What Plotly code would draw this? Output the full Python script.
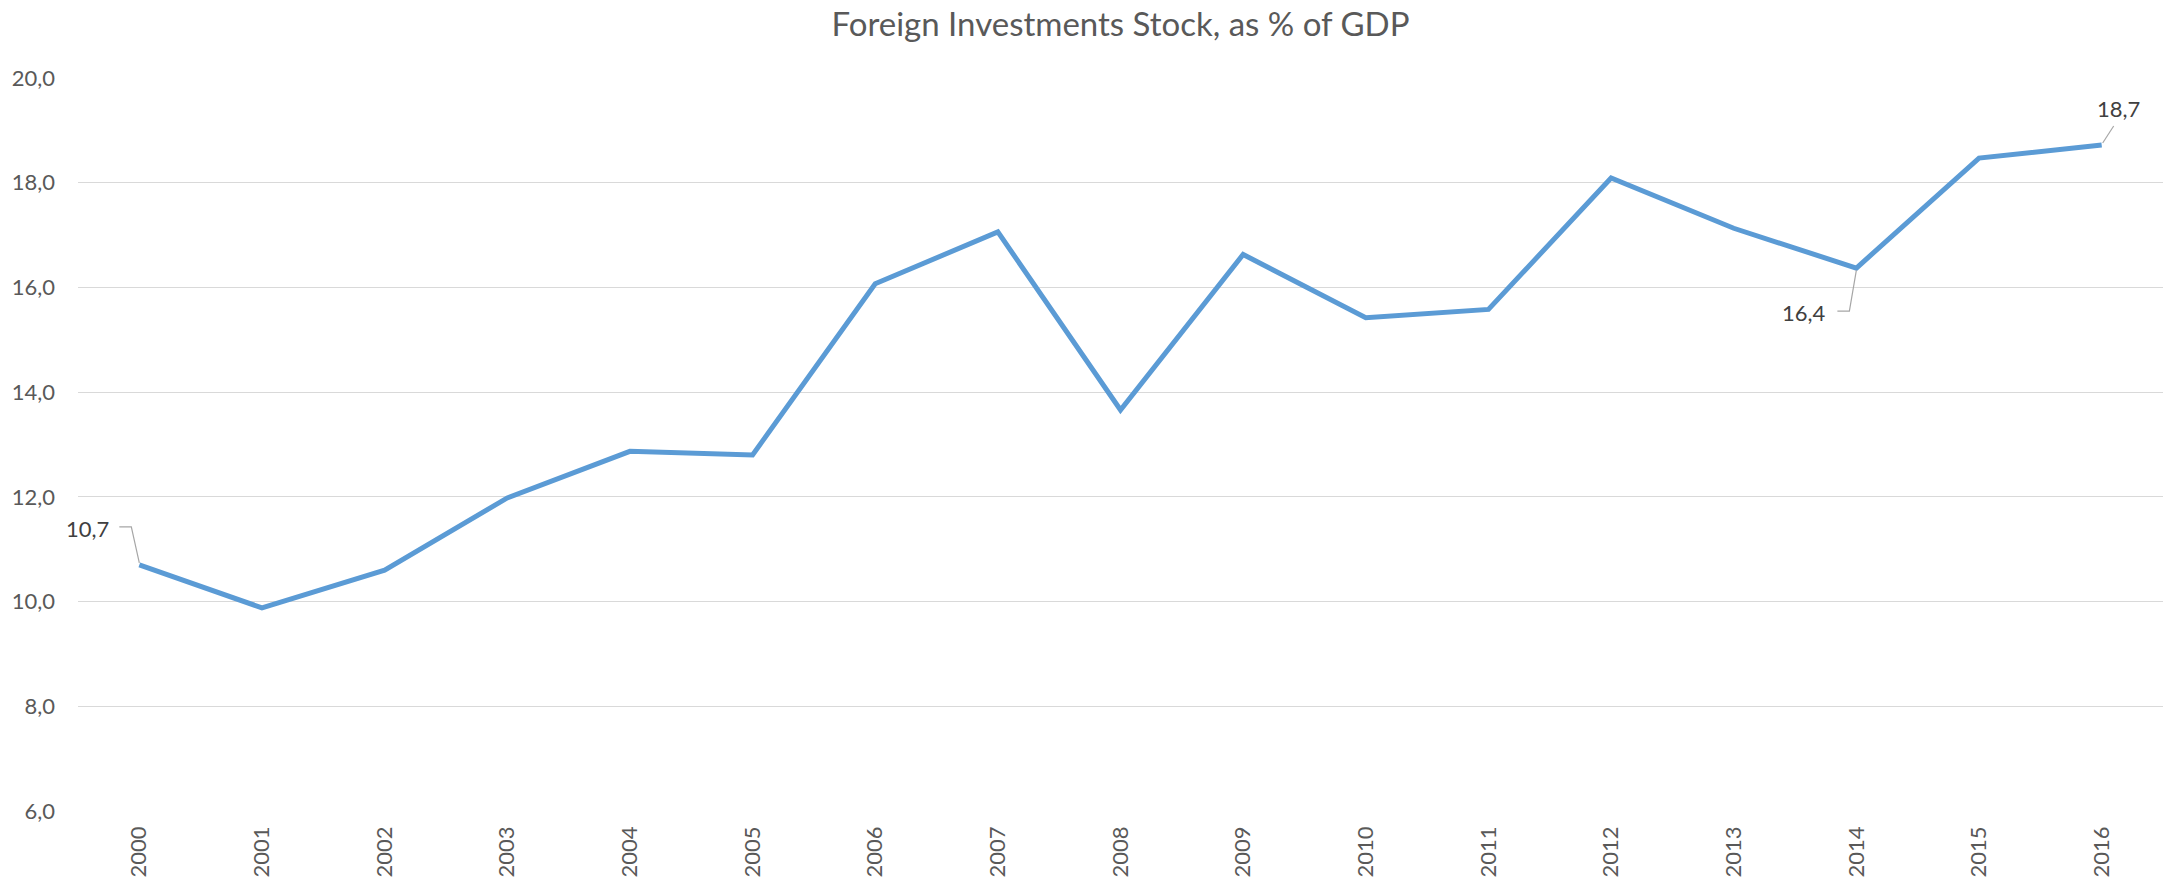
import plotly.graph_objects as go

years = [str(y) for y in range(2000, 2017)]
values = [10.7, 9.88, 10.6, 11.98, 12.87, 12.8, 16.07, 17.06, 13.66, 16.63,
          15.42, 15.58, 18.09, 17.13, 16.37, 18.47, 18.72]
y_ticks = [6, 8, 10, 12, 14, 16, 18, 20]

# labelled points: index, label text offset (px), text anchor, leader path (px, relative to point)
labelled = [
    (0, -28, 36, "right", "M -20,38 L -8,38 L 0,2"),
    (14, -28, -44, "right", "M -19,-43 L -7,-43 L 0,-2"),
    (16, 17, 37, "center", "M 12,19 L 1,2"),
]

FONT = "Lato"
fig = go.Figure()
fig.add_trace(go.Scatter(
    x=years, y=values, mode="lines",
    line=dict(color="#5B9BD5", width=5),
    hoverinfo="x+y", showlegend=False,
))

annotations = []
shapes = []
for idx, dx, dy, anchor, path in labelled:
    annotations.append(dict(
        x=idx, y=values[idx], xref="x", yref="y",
        text=f"{values[idx]:.1f}".replace(".", ","),
        showarrow=False, xanchor=anchor, yanchor="middle",
        xshift=dx, yshift=dy,
        font=dict(family=FONT, size=22, color="#404040"),
    ))
    shapes.append(dict(
        type="path", xref="x", yref="y",
        xsizemode="pixel", ysizemode="pixel",
        xanchor=idx, yanchor=values[idx],
        path=path, line=dict(color="#A6A6A6", width=1.2),
    ))

fig.update_layout(
    width=2177, height=877,
    margin=dict(l=78, r=14, t=78, b=66, autoexpand=False),
    paper_bgcolor="white", plot_bgcolor="white",
    separators=", ",
    title=dict(
        text="Foreign Investments Stock, as % of GDP",
        x=0.5, xref="paper", xanchor="center",
        y=1 - 24 / 877, yref="container", yanchor="middle",
        font=dict(family=FONT, size=33, color="#595959"),
    ),
    xaxis=dict(
        type="category", range=[-0.5, 16.5], automargin=False,
        showgrid=False, showline=False, zeroline=False,
        tickangle=-90, ticks="", ticklabelstandoff=10,
        tickfont=dict(family=FONT, size=22, color="#595959"),
    ),
    yaxis=dict(
        range=[6, 20], tickvals=y_ticks, tickformat=".1f", automargin=False,
        showgrid=True, gridcolor="#D9D9D9", gridwidth=1.3,
        zeroline=False, showline=False, ticks="", ticklabelstandoff=22,
        tickfont=dict(family=FONT, size=22, color="#595959"),
    ),
    annotations=annotations,
    shapes=shapes,
)

fig.write_html(
    "out.html",
    config={"displayModeBar": False},
    post_script="document.body.style.margin='0';document.body.style.overflow='hidden';",
)
